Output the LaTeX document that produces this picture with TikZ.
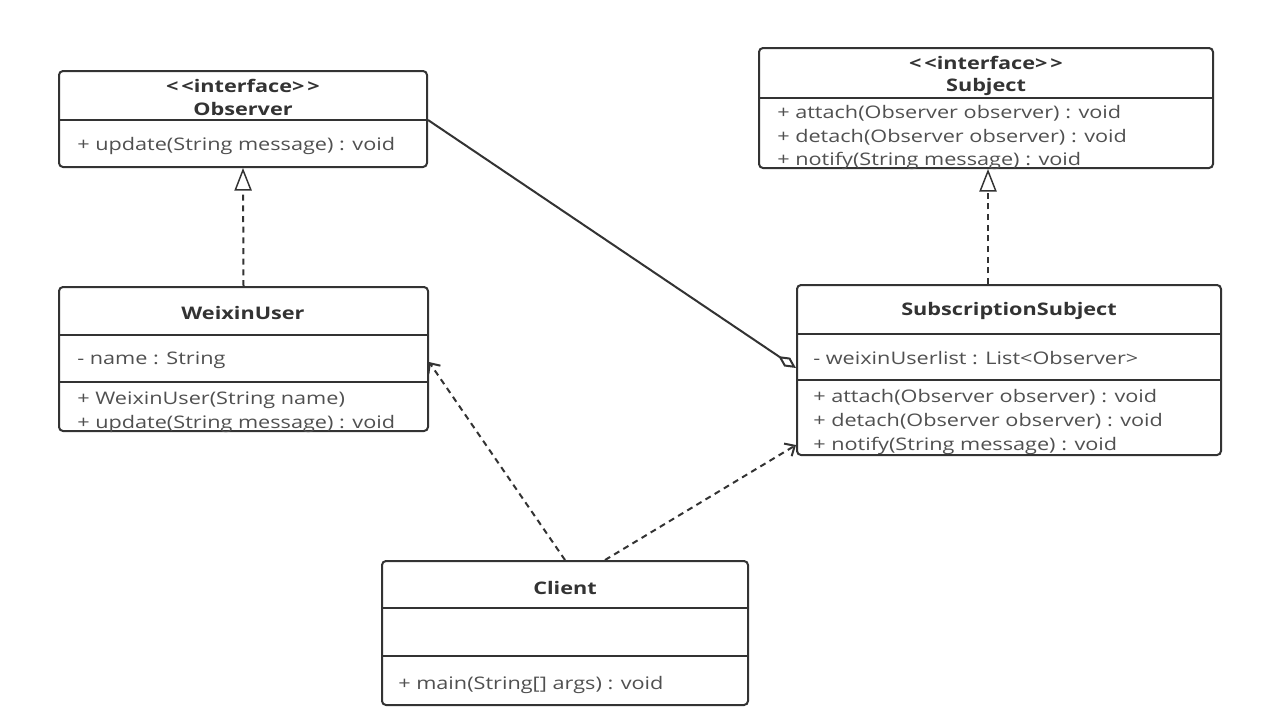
\documentclass[tikz,border=0pt]{standalone}
\usepackage{fontspec}
\setmainfont{Open Sans}[FakeStretch=1.25]
\usepackage{xcolor}
\usepackage{tikz}
\usetikzlibrary{arrows.meta, fit, positioning}

\definecolor{linec}{HTML}{333333}
\definecolor{textc}{HTML}{505050}

\tikzset{
    umlbox/.style={draw=linec, line width=1.5pt, rounded corners=3pt, inner sep=0pt, fill=white},
    title/.style={font=\bfseries\fontsize{13}{15}\selectfont, text=linec, inner sep=0pt},
    member/.style={font=\fontsize{13}{15}\selectfont, text=textc, anchor=west, inner sep=0pt},
    sep/.style={draw=linec, line width=1.5pt},
    realize/.style={draw=linec, line width=1.5pt, dash pattern=on 4.5pt off 3.5pt, -{Triangle[open, length=17pt, width=13pt, line width=1.1pt]}},
    depend/.style={draw=linec, line width=1.5pt, dash pattern=on 4.5pt off 3.5pt, -{Straight Barb[length=6pt, width=11pt]}},
    aggreg/.style={draw=linec, line width=1.5pt, {Diamond[open, length=16pt, width=8pt]}-}
}

\newcommand{\stereo}{\textless\,\textless interface\textgreater\,\textgreater}

\begin{document}
\begin{tikzpicture}[x=0.75pt, y=-0.75pt]
    \useasboundingbox (0,0) rectangle (1262,715);

    % Các hộp lớp
    \node[umlbox, fit={(59,71) (427,167)}] (observer) {};
    \node[umlbox, fit={(759,48) (1213,168)}] (subject) {};
    \node[umlbox, fit={(59,287) (428,431)}] (weixin) {};
    \node[umlbox, fit={(797,285) (1221,455)}] (subsub) {};
    \node[umlbox, fit={(382,561) (748,705)}] (client) {};

    % Đường phân cách
    \draw[sep] (observer.west |- 0,120) -- (observer.east |- 0,120);
    \draw[sep] (subject.west |- 0,98) -- (subject.east |- 0,98);
    \foreach \y in {335,382} {
        \draw[sep] (weixin.west |- 0,\y) -- (weixin.east |- 0,\y);
    }
    \foreach \y in {334,380} {
        \draw[sep] (subsub.west |- 0,\y) -- (subsub.east |- 0,\y);
    }
    \foreach \y in {608,656} {
        \draw[sep] (client.west |- 0,\y) -- (client.east |- 0,\y);
    }

    % Observer
    \node[title] (obsst) at (243,86) {\stereo};
    \node[title] (obsname) at (243,109) {Observer};
    \node[member] (obsm1) at (77,146) {+ update(String message) : void};

    % Subject
    \node[title] (subst) at (986,63) {\stereo};
    \node[title] (subname) at (986,87) {Subject};
    \node[member] (subm1) at (777,113) {+ attach(Observer observer) : void};
    \node[member] (subm2) at (777,137) {+ detach(Observer observer) : void};
    \node[member] (subm3) at (777,161) {+ notify(String message) : void};

    % WeixinUser
    \node[title] (wxname) at (243,313) {WeixinUser};
    \node[member] (wxa1) at (77,360) {- name : String};
    \node[member] (wxm1) at (77,400) {+ WeixinUser(String name)};
    \node[member] (wxm2) at (77,424) {+ update(String message) : void};

    % SubscriptionSubject
    \node[title] (ssname) at (1009,311) {SubscriptionSubject};
    \node[member] (ssa1) at (813,358) {- weixinUserlist : List\textless Observer\textgreater};
    \node[member] (ssm1) at (813,397) {+ attach(Observer observer) : void};
    \node[member] (ssm2) at (813,421) {+ detach(Observer observer) : void};
    \node[member] (ssm3) at (813,446) {+ notify(String message) : void};

    % Client
    \node[title] (clname) at (565,588) {Client};
    \node[member] (clm1) at (398,685) {+ main(String[] args) : void};

    % Quan hệ
    \draw[realize] (weixin.north) -- (observer.south);
    \draw[realize] (subsub.north -| 988,0) -- (subject.south -| 988,0);
    \draw[aggreg] (subsub.west |- 0,368) -- (observer.east |- 0,120);
    \draw[depend] (client.north -| 565,0) -- (weixin.east |- 0,362);
    \draw[depend] (client.north -| 605,0) -- (subsub.west |- 0,445);

\end{tikzpicture}
\end{document}
